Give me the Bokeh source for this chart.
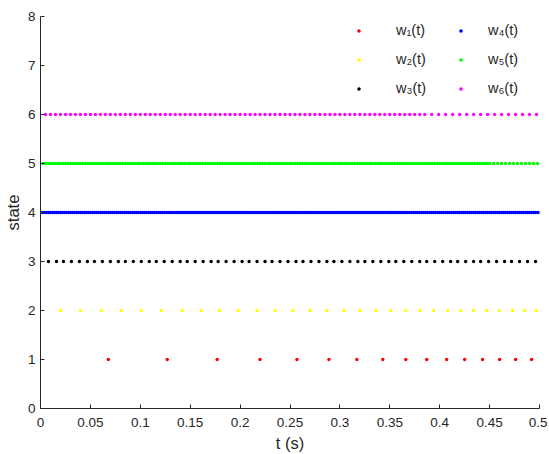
from bokeh.plotting import figure
from bokeh.models import Legend, LegendItem, FixedTicker, Range1d
from bokeh.embed import file_html
from bokeh.resources import INLINE

# ---------------- data ----------------
labels = ["w\u2081(t)", "w\u2082(t)", "w\u2083(t)", "w\u2084(t)", "w\u2085(t)", "w\u2086(t)"]
colors = ["#ff0000", "#ffff00", "#000000", "#0000ff", "#00ff00", "#ff00ff"]
states = [1, 2, 3, 4, 5, 6]

w1_t = [0.068, 0.127, 0.177, 0.220, 0.257, 0.289, 0.317, 0.343, 0.366, 0.387,
        0.407, 0.425, 0.443, 0.460, 0.476, 0.492]

w2_t = [0.020, 0.040, 0.061, 0.081, 0.101, 0.121, 0.142, 0.161, 0.179, 0.198,
        0.217, 0.235, 0.253, 0.270, 0.287, 0.304, 0.320, 0.336, 0.351, 0.366,
        0.380, 0.394, 0.408, 0.421, 0.434, 0.447, 0.460, 0.473, 0.485, 0.497]

w3_t = [0.008, 0.016, 0.023, 0.031, 0.039, 0.047, 0.054, 0.062, 0.070, 0.078,
        0.085, 0.093, 0.101, 0.109, 0.116, 0.124, 0.132, 0.140, 0.147, 0.155,
        0.163, 0.171, 0.178, 0.186, 0.194, 0.202, 0.209, 0.217, 0.225, 0.232,
        0.240, 0.248, 0.256, 0.263, 0.271, 0.279, 0.287, 0.294, 0.302, 0.310,
        0.318, 0.325, 0.333, 0.341, 0.349, 0.356, 0.364, 0.372, 0.380, 0.387,
        0.395, 0.403, 0.411, 0.418, 0.426, 0.434, 0.441, 0.449, 0.457, 0.465,
        0.472, 0.480, 0.488, 0.496]

w4_t = [0.002, 0.004, 0.006, 0.008, 0.010, 0.012, 0.014, 0.016, 0.018, 0.020,
        0.022, 0.024, 0.026, 0.028, 0.030, 0.032, 0.034, 0.036, 0.038, 0.040,
        0.042, 0.044, 0.046, 0.048, 0.050, 0.052, 0.054, 0.056, 0.058, 0.060,
        0.062, 0.064, 0.066, 0.068, 0.070, 0.072, 0.074, 0.076, 0.078, 0.080,
        0.082, 0.084, 0.086, 0.088, 0.090, 0.092, 0.094, 0.096, 0.098, 0.100,
        0.102, 0.104, 0.106, 0.108, 0.110, 0.112, 0.114, 0.116, 0.118, 0.120,
        0.122, 0.124, 0.126, 0.128, 0.130, 0.132, 0.134, 0.136, 0.138, 0.140,
        0.142, 0.144, 0.146, 0.148, 0.150, 0.152, 0.154, 0.156, 0.158, 0.160,
        0.162, 0.164, 0.166, 0.168, 0.170, 0.172, 0.174, 0.176, 0.178, 0.180,
        0.182, 0.184, 0.186, 0.188, 0.190, 0.192, 0.194, 0.196, 0.198, 0.200,
        0.202, 0.204, 0.206, 0.208, 0.210, 0.212, 0.214, 0.216, 0.218, 0.220,
        0.222, 0.224, 0.226, 0.228, 0.230, 0.232, 0.234, 0.236, 0.238, 0.240,
        0.242, 0.244, 0.246, 0.248, 0.250, 0.252, 0.254, 0.256, 0.258, 0.260,
        0.262, 0.264, 0.266, 0.268, 0.270, 0.272, 0.274, 0.276, 0.278, 0.280,
        0.282, 0.284, 0.286, 0.288, 0.290, 0.292, 0.294, 0.296, 0.298, 0.300,
        0.302, 0.304, 0.306, 0.308, 0.310, 0.312, 0.314, 0.316, 0.318, 0.320,
        0.322, 0.324, 0.326, 0.328, 0.330, 0.332, 0.334, 0.336, 0.338, 0.340,
        0.342, 0.344, 0.346, 0.348, 0.350, 0.352, 0.354, 0.356, 0.358, 0.360,
        0.362, 0.364, 0.366, 0.368, 0.370, 0.372, 0.374, 0.376, 0.378, 0.380,
        0.382, 0.384, 0.386, 0.388, 0.390, 0.392, 0.394, 0.396, 0.398, 0.400,
        0.402, 0.404, 0.406, 0.408, 0.410, 0.412, 0.414, 0.416, 0.418, 0.420,
        0.422, 0.424, 0.426, 0.428, 0.430, 0.432, 0.434, 0.436, 0.438, 0.440,
        0.442, 0.444, 0.446, 0.448, 0.450, 0.452, 0.454, 0.456, 0.458, 0.460,
        0.462, 0.464, 0.466, 0.468, 0.470, 0.472, 0.474, 0.476, 0.478, 0.480,
        0.482, 0.484, 0.486, 0.488, 0.490, 0.492, 0.494, 0.496, 0.498, 0.500]

w5_t = [0.0025, 0.0050, 0.0075, 0.0100, 0.0125, 0.0150, 0.0175, 0.0200,
        0.0225, 0.0250, 0.0275, 0.0300, 0.0325, 0.0350, 0.0375, 0.0400,
        0.0425, 0.0450, 0.0475, 0.0500, 0.0525, 0.0550, 0.0575, 0.0600,
        0.0625, 0.0650, 0.0675, 0.0700, 0.0725, 0.0750, 0.0775, 0.0800,
        0.0825, 0.0850, 0.0875, 0.0900, 0.0925, 0.0950, 0.0975, 0.1000,
        0.1025, 0.1050, 0.1075, 0.1100, 0.1125, 0.1150, 0.1175, 0.1200,
        0.1225, 0.1250, 0.1275, 0.1300, 0.1325, 0.1350, 0.1375, 0.1400,
        0.1425, 0.1450, 0.1475, 0.1500, 0.1525, 0.1550, 0.1575, 0.1600,
        0.1625, 0.1650, 0.1675, 0.1700, 0.1725, 0.1750, 0.1775, 0.1800,
        0.1825, 0.1850, 0.1875, 0.1900, 0.1925, 0.1950, 0.1975, 0.2000,
        0.2025, 0.2050, 0.2075, 0.2100, 0.2125, 0.2150, 0.2175, 0.2200,
        0.2225, 0.2250, 0.2275, 0.2300, 0.2325, 0.2350, 0.2375, 0.2400,
        0.2425, 0.2450, 0.2475, 0.2500, 0.2525, 0.2550, 0.2575, 0.2600,
        0.2625, 0.2650, 0.2675, 0.2700, 0.2725, 0.2750, 0.2775, 0.2800,
        0.2825, 0.2850, 0.2875, 0.2900, 0.2925, 0.2950, 0.2975, 0.3000,
        0.3025, 0.3050, 0.3075, 0.3100, 0.3125, 0.3150, 0.3175, 0.3200,
        0.3225, 0.3250, 0.3275, 0.3300, 0.3325, 0.3350, 0.3375, 0.3400,
        0.3425, 0.3450, 0.3475, 0.3500, 0.3525, 0.3550, 0.3575, 0.3600,
        0.3625, 0.3650, 0.3675, 0.3700, 0.3725, 0.3750, 0.3775, 0.3800,
        0.3825, 0.3850, 0.3875, 0.3900, 0.3925, 0.3950, 0.3975, 0.4000,
        0.4025, 0.4050, 0.4075, 0.4100, 0.4125, 0.4150, 0.4175, 0.4200,
        0.4225, 0.4250, 0.4275, 0.4300, 0.4325, 0.4350, 0.4375, 0.4400,
        0.4425, 0.4450, 0.4475, 0.4500, 0.4540, 0.4580, 0.4620, 0.4660,
        0.4700, 0.4740, 0.4780, 0.4820, 0.4860, 0.4900, 0.4940, 0.4980]

w6_t = [0.005, 0.010, 0.015, 0.020, 0.025, 0.030, 0.035, 0.040, 0.045, 0.050,
        0.055, 0.060, 0.065, 0.070, 0.075, 0.080, 0.085, 0.090, 0.095, 0.100,
        0.105, 0.110, 0.115, 0.120, 0.125, 0.130, 0.135, 0.140, 0.145, 0.150,
        0.155, 0.160, 0.165, 0.170, 0.175, 0.180, 0.185, 0.190, 0.195, 0.200,
        0.205, 0.210, 0.215, 0.220, 0.225, 0.230, 0.235, 0.240, 0.245, 0.250,
        0.255, 0.260, 0.265, 0.270, 0.275, 0.280, 0.285, 0.290, 0.295, 0.300,
        0.305, 0.310, 0.315, 0.320, 0.325, 0.330, 0.335, 0.340, 0.345, 0.350,
        0.355, 0.360, 0.365, 0.370, 0.375, 0.380, 0.385, 0.392, 0.399, 0.406,
        0.413, 0.420, 0.427, 0.434, 0.441, 0.448, 0.455, 0.462, 0.469, 0.476,
        0.483, 0.490, 0.497]

x_ticks = [0, 0.05, 0.1, 0.15, 0.2, 0.25, 0.3, 0.35, 0.4, 0.45, 0.5]
x_tick_labels = ["0", "0.05", "0.1", "0.15", "0.2", "0.25", "0.3", "0.35", "0.4", "0.45", "0.5"]
y_ticks = [0, 1, 2, 3, 4, 5, 6, 7, 8]
x_title = "t (s)"
y_title = "state"

series_t = [w1_t, w2_t, w3_t, w4_t, w5_t, w6_t]

# ---------------- figure ----------------
FONT = "Liberation Sans"
AX = "#262626"

p = figure(frame_width=499, frame_height=392, output_backend="svg", toolbar_location=None,
           x_range=Range1d(0, 0.5), y_range=Range1d(0, 8),
           min_border_left=36, min_border_right=8, min_border_top=16, min_border_bottom=46)
p.outline_line_color = None
p.grid.visible = False
p.background_fill_color = "white"

renderers = []
for t, s, c in zip(series_t, states, colors):
    r = p.scatter(x=t, y=[s] * len(t), marker="circle", size=3.4,
                  fill_color=c, line_color=None)
    renderers.append(r)

for ax in (p.xaxis[0], p.yaxis[0]):
    ax.axis_line_color = AX
    ax.major_tick_line_color = AX
    ax.major_tick_in = 4
    ax.major_tick_out = 0
    ax.minor_tick_line_color = None
    ax.major_label_text_font = FONT
    ax.major_label_text_font_size = "13.5px"
    ax.major_label_text_color = AX
    ax.axis_label_text_font = FONT
    ax.axis_label_text_font_size = "16.5px"
    ax.axis_label_text_font_style = "normal"
    ax.axis_label_text_color = AX

p.xaxis.ticker = FixedTicker(ticks=x_ticks)
p.xaxis.major_label_overrides = {t: l for t, l in zip(x_ticks, x_tick_labels)}
p.xaxis.axis_label = x_title
p.xaxis.major_label_standoff = 9
p.xaxis.axis_label_standoff = 4

p.yaxis.ticker = FixedTicker(ticks=y_ticks)
p.yaxis.axis_label = y_title
p.yaxis.major_label_standoff = 5
p.yaxis.axis_label_standoff = 3

# ---------------- legends (two columns) ----------------
def make_legend(idx, loc, standoff):
    items = [LegendItem(label=labels[i], renderers=[renderers[i]]) for i in idx]
    leg = Legend(items=items, location=loc, orientation="vertical",
                 glyph_width=9, glyph_height=9, label_height=20, spacing=9,
                 padding=0, margin=0, label_standoff=standoff,
                 border_line_color=None, background_fill_alpha=0,
                 label_text_font=FONT, label_text_font_size="14.5px",
                 label_text_color=AX)
    return leg

p.add_layout(make_legend([0, 1, 2], (314, 310), 33))
p.add_layout(make_legend([3, 4, 5], (416, 310), 23))

open("out.html", "w").write(file_html(p, INLINE))
